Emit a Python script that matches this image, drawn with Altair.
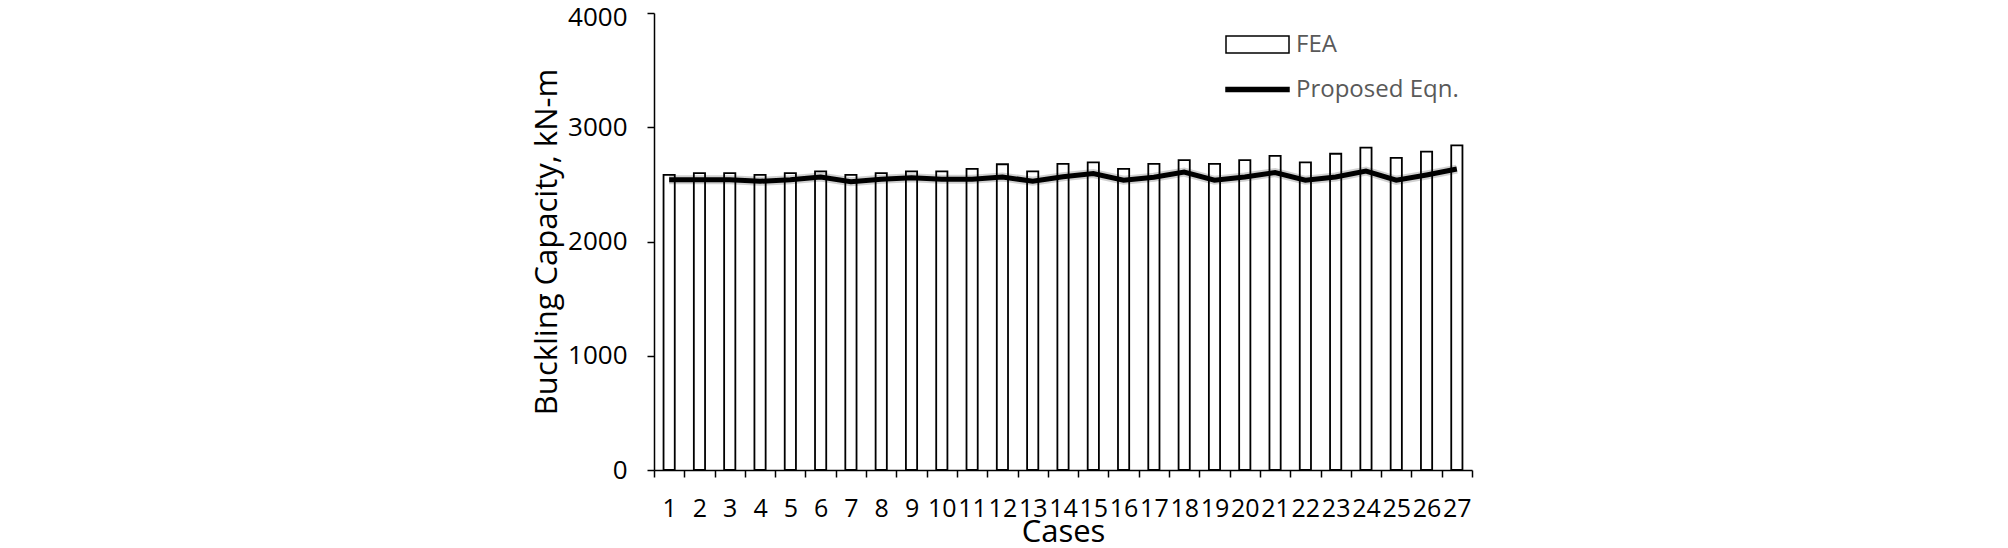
import altair as alt
import pandas as pd

cases = [str(i) for i in range(1, 28)]
fea = [2584, 2599, 2599, 2584, 2599, 2614, 2584, 2599, 2614, 2614, 2636, 2676, 2614,
       2680, 2692, 2636, 2680, 2712, 2680, 2712, 2750, 2692, 2768, 2821, 2732, 2787, 2842]
proposed = [2541, 2541, 2541, 2527, 2541, 2565, 2524, 2544, 2559, 2544, 2544, 2565, 2527,
            2567, 2594, 2536, 2562, 2608, 2536, 2565, 2603, 2536, 2565, 2617, 2536, 2582, 2634]
series = ["FEA", "Proposed Eqn."]

df = pd.DataFrame({"Case": cases, "FEA": fea, "Proposed": proposed})
leg = pd.DataFrame({"Case": ["1", "1"], "series": series, "v": [-1000, -1000]})

FONT = "Open Sans"
x_enc = alt.X("Case:N", sort=cases,
              scale=alt.Scale(paddingInner=0, paddingOuter=0),
              axis=alt.Axis(title="Cases", labelAngle=0, labelOverlap=False, labelFlush=False,
                            grid=False,
                            tickBand="extent", tickSize=7, tickColor="black", tickWidth=1.5,
                            domainColor="black", domainWidth=1.5, labelPadding=19,
                            labelFont=FONT, labelFontSize=25, labelColor="black",
                            titleFont=FONT, titleFontSize=31, titleFontWeight="normal",
                            titleColor="black", titlePadding=-4))
y_scale = alt.Scale(domain=[0, 4000])
y_axis = alt.Axis(title="Buckling Capacity, kN-m", values=[0, 1000, 2000, 3000, 4000],
                  format="d", grid=False, tickSize=7, tickColor="black", tickWidth=1.5,
                  domainColor="black", domainWidth=1.5, labelPadding=20,
                  labelOffset={"condition": {"test": "datum.value == 4000", "value": 4},
                               "value": 0},
                  labelFont=FONT, labelFontSize=26, labelColor="black",
                  titleFont=FONT, titleFontSize=31, titleFontWeight="normal",
                  titleColor="black", titlePadding=4)

bars = alt.Chart(df).mark_bar(width=alt.RelativeBandSize(0.37), fill="white",
                              stroke="black", strokeWidth=1.8).encode(
    x=x_enc, y=alt.Y("FEA:Q", scale=y_scale, axis=y_axis))

shadow = alt.Chart(df).mark_line(color="#000000", strokeWidth=9, opacity=0.18).encode(
    x=alt.X("Case:N", sort=cases), y=alt.Y("Proposed:Q"))
line = alt.Chart(df).mark_line(color="black", strokeWidth=5).encode(
    x=alt.X("Case:N", sort=cases), y=alt.Y("Proposed:Q"))

rect_path = "M-1,-0.27H1V0.27H-1Z"
line_path = "M-1,-0.06H1V0.06H-1Z"
legend_def = alt.Legend(title=None, orient="none", legendX=571, legendY=-1,
                        symbolSize=3969,
                        symbolStrokeColor="black", symbolStrokeWidth=1.5,
                        symbolOpacity=1, rowPadding=0, labelLimit=0,
                        labelFont=FONT, labelFontSize=24, labelColor="#595959",
                        labelOffset=6)
legend_layer = alt.Chart(leg).mark_point(filled=True, clip=True, strokeWidth=1.5).encode(
    x=alt.X("Case:N", sort=cases),
    y=alt.Y("v:Q"),
    shape=alt.Shape("series:N", scale=alt.Scale(domain=series, range=[rect_path, line_path]),
                    legend=legend_def),
    fill=alt.Fill("series:N", scale=alt.Scale(domain=series, range=["white", "black"]),
                  legend=legend_def),
    stroke=alt.Stroke("series:N", scale=alt.Scale(domain=series, range=["black", "black"]),
                      legend=legend_def),
)

chart = alt.layer(bars, shadow, line, legend_layer).properties(
    width=818, height=457,
    background="white",
    autosize=alt.AutoSizeParams(type="none"),
    padding={"left": 646, "top": 5, "right": 520, "bottom": 78},
).configure_view(stroke="transparent", strokeWidth=0)

chart.save("out.html", embed_options={"renderer": "svg", "actions": False})
